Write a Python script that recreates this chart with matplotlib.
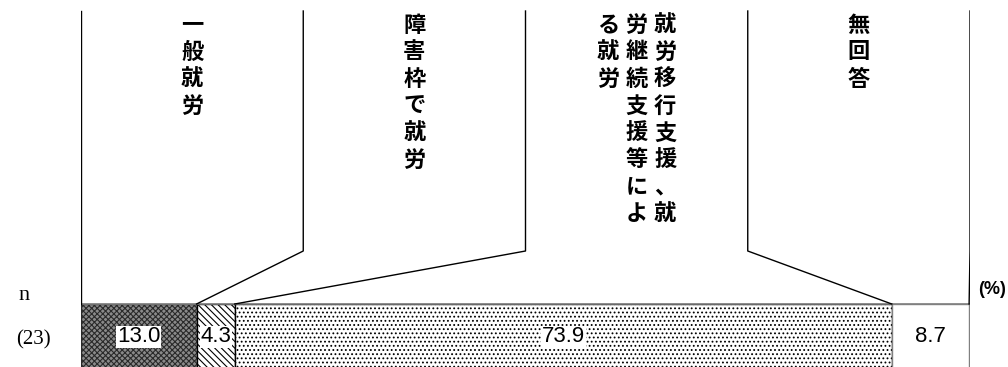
import matplotlib.pyplot as plt

plt.rcParams['font.family'] = ['Noto Sans CJK JP', 'DejaVu Sans']
plt.rcParams['hatch.linewidth'] = 0.8

# データ
categories = ['一般就労', '障害枠で就労', '就労移行支援、就労継続支援等による就労', '無回答']
values = [13.0, 4.3, 73.9, 8.7]
n_label = '(23)'

hatches = ['xxxxxx', '\\\\\\\\\\', '....', '']
faces = ['#8a8a8a', 'white', 'white', 'white']
edges = ['#2a2a2a', 'black', 'black', '#808080']

fig = plt.figure(figsize=(10.08, 3.67), dpi=100)
ax = fig.add_axes([81 / 1008, 0, 889 / 1008, 1])
ax.set_xlim(0, 100)
ax.set_ylim(367, 0)  # 縦方向は上からのピクセル
ax.axis('off')

bar_top, bar_h = 304, 70
col_top, elbow = 11, 251
chars_per_col = 8

# 帯グラフ
left = 0
cum = [0]
for v, h, fc, ec in zip(values, hatches, faces, edges):
    ax.barh(bar_top + bar_h / 2, v, height=bar_h, left=left, color=fc,
            hatch=h, edgecolor=ec, linewidth=1)
    ax.text(left + v / 2, 337, f'{v:.1f}', ha='center', va='center',
            fontsize=16, family='Liberation Sans',
            bbox=dict(facecolor='white', edgecolor='none', pad=0.5))
    left += v
    cum.append(left)
ax.axhline(bar_top, color='#808080', lw=1.2)

# 見出しの枠と引き出し線
ncat = len(categories)
w = 100 / ncat
for k in range(ncat + 1):
    ax.plot([k * w, k * w, cum[k]], [col_top, elbow, bar_top],
            color='black', lw=1)

# 縦書きの見出し
step = 27
for i, name in enumerate(categories):
    cols = [name[j:j + chars_per_col] for j in range(0, len(name), chars_per_col)]
    cx = (i + 0.5) * w
    ncol = len(cols)
    dx = 28.5 / 889 * 100
    for c, line in enumerate(cols):
        x = cx + ((ncol - 1) / 2 - c) * dx
        for r, ch in enumerate(line):
            ax.text(x, 25 + r * step, ch, ha='center', va='center',
                    fontsize=16, fontweight='bold')

fig.text(24 / 1008, 1 - 295 / 367, 'n', ha='center', va='center',
         fontsize=16, family='Liberation Serif')
fig.text(33 / 1008, 1 - 340 / 367, n_label, ha='center', va='center',
         fontsize=15, family='Liberation Serif')
fig.text(992 / 1008, 1 - 289 / 367, '(%)', ha='center', va='center',
         fontsize=13, family='Liberation Sans', fontweight='bold')

fig.savefig('out.png', dpi=100)
